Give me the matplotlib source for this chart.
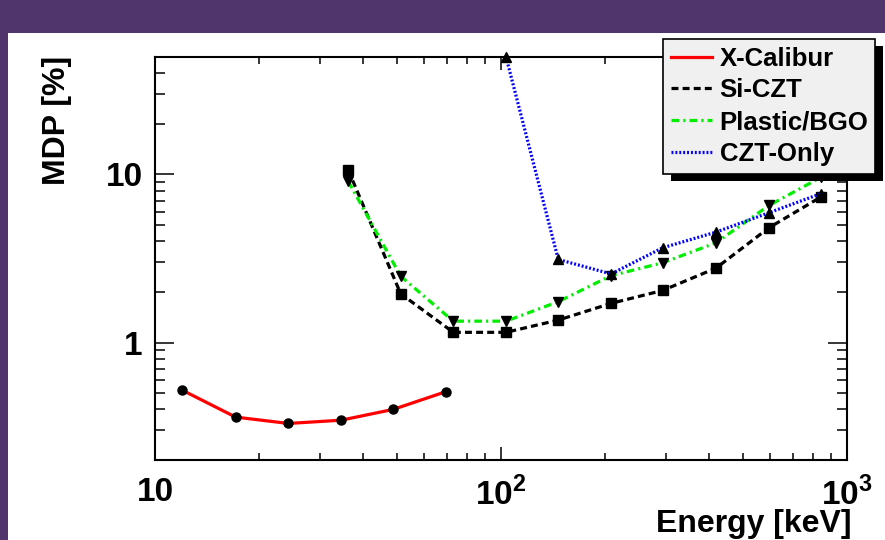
import matplotlib
matplotlib.use('Agg')
import matplotlib.pyplot as plt
from matplotlib.patches import Rectangle
from matplotlib.ticker import LogLocator, NullFormatter, FixedLocator, FixedFormatter

plt.rcParams['font.family'] = 'Liberation Sans'
plt.rcParams['font.weight'] = 'bold'
plt.rcParams['mathtext.fontset'] = 'custom'
plt.rcParams['mathtext.rm'] = 'Liberation Sans:bold'
plt.rcParams['mathtext.bf'] = 'Liberation Sans:bold'
plt.rcParams['lines.scale_dashes'] = False

# data
xcal_e = [12.0, 17.1, 24.3, 34.5, 48.8, 69.3]
xcal_mdp = [0.52, 0.36, 0.33, 0.345, 0.40, 0.51]

sicz_e = [36.2, 51.3, 72.8, 103.4, 146.4, 208, 293, 418, 595, 839]
sicz_mdp = [10.6, 1.95, 1.15, 1.15, 1.36, 1.71, 2.04, 2.77, 4.82, 7.33]

bgo_e = [36.2, 51.3, 72.8, 103.4, 146.4, 208, 293, 418, 595, 839]
bgo_mdp = [9.1, 2.48, 1.34, 1.34, 1.75, 2.50, 2.98, 3.92, 6.54, 9.6]

czt_e = [103.4, 146.4, 208, 293, 418, 595, 839]
czt_mdp = [50.0, 3.12, 2.56, 3.66, 4.54, 5.92, 7.68]

labels = ['X-Calibur', 'Si-CZT', 'Plastic/BGO', 'CZT-Only']

W, H = 885, 540
fig = plt.figure(figsize=(W / 100, H / 100), dpi=100)
fig.patch.set_facecolor('#4f356c')
fig.patches.append(Rectangle((8 / W, 0), 1, (H - 33) / H, transform=fig.transFigure,
                             facecolor='white', edgecolor='none', zorder=-10))

ax = fig.add_axes([155 / W, 1 - 460 / H, (847 - 155) / W, (460 - 57) / H])
ax.set_xscale('log')
ax.set_yscale('log')
ax.set_xlim(10, 1000)
ax.set_ylim(0.2, 50)

lw = 2.3
ax.plot(xcal_e, xcal_mdp, color='red', lw=lw, marker='o', ms=6.5,
        mfc='black', mec='black', clip_on=False, label=labels[0])
ax.plot(sicz_e, sicz_mdp, color='black', lw=lw, dashes=(5, 3), marker='s', ms=6.5,
        mfc='black', mec='black', clip_on=False, label=labels[1])
ax.plot(bgo_e, bgo_mdp, color='#00ee00', lw=lw, dashes=(5.5, 3, 1.5, 3), marker='v', ms=7,
        mfc='black', mec='black', clip_on=False, label=labels[2])
ax.plot(czt_e, czt_mdp, color='blue', lw=lw, dashes=(1.4, 1.4), marker='^', ms=7,
        mfc='black', mec='black', clip_on=False, label=labels[3])

for s in ax.spines.values():
    s.set_linewidth(1.5)

ax.xaxis.set_major_locator(FixedLocator([10, 100, 1000]))
ax.xaxis.set_major_formatter(FixedFormatter(['10', r'$10^{2}$', r'$10^{3}$']))
ax.xaxis.set_minor_locator(LogLocator(base=10, subs=range(2, 10)))
ax.xaxis.set_minor_formatter(NullFormatter())
ax.yaxis.set_major_locator(FixedLocator([1, 10]))
ax.yaxis.set_major_formatter(FixedFormatter(['1', '10']))
ax.yaxis.set_minor_locator(LogLocator(base=10, subs=range(2, 10)))
ax.yaxis.set_minor_formatter(NullFormatter())

ax.tick_params(which='both', direction='in', top=True, right=True, width=1.1, labelsize=24)
ax.tick_params(axis='x', which='major', length=9.5, pad=12)
ax.tick_params(axis='x', which='minor', length=5)
ax.tick_params(axis='y', which='major', length=14, pad=9)
ax.tick_params(axis='y', which='minor', length=7)

fig.text(57 / W, 1 - 56 / H, 'MDP [%]', rotation=90, ha='center', va='top',
         fontsize=23, fontweight='bold')
fig.text(851 / W, 1 - 524 / H, 'Energy [keV]', ha='right', va='center',
         fontsize=23, fontweight='bold')

leg = ax.legend(loc='upper left',
                bbox_to_anchor=(663 / W, 1 - 39 / H - 0.01, (875 - 663) / W, 0.01),
                bbox_transform=fig.transFigure, mode='expand', borderaxespad=0,
                fontsize=18.5, handlelength=1.6, handletextpad=0.3, labelspacing=0.3,
                borderpad=0.3, fancybox=False, framealpha=1, facecolor='#f0f0f0',
                edgecolor='black')
leg.get_frame().set_linewidth(1.2)
for h in leg.get_lines():
    h.set_marker('')
leg.set_zorder(20)

# black drop shadow behind the legend box
fig.canvas.draw()
bb = leg.get_window_extent()
ax.add_patch(Rectangle((bb.x0 + 8, bb.y0 - 7), bb.width, bb.height, transform=None,
                       facecolor='black', edgecolor='none', zorder=19, clip_on=False))

fig.savefig('out.png', dpi=100, facecolor=fig.get_facecolor())
